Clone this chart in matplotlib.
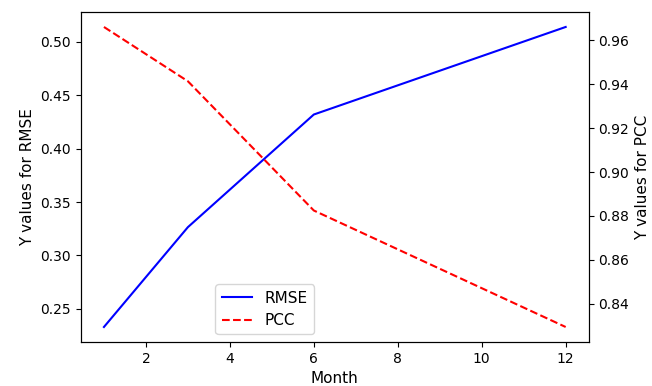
import matplotlib
matplotlib.use('Agg')
import matplotlib.pyplot as plt

months = [1, 3, 6, 12]
rmse = [0.233, 0.3265, 0.432, 0.514]
pcc = [0.966, 0.9413, 0.8825, 0.8295]

fig, ax1 = plt.subplots(figsize=(6.52, 3.86), dpi=100)
fig.subplots_adjust(left=0.124, right=0.903, top=0.969, bottom=0.114)

l1, = ax1.plot(months, rmse, color='blue', linestyle='-', label='RMSE')
ax1.set_xlabel('Month', fontsize=11)
ax1.set_ylabel('Y values for RMSE', fontsize=11)

ax2 = ax1.twinx()
l2, = ax2.plot(months, pcc, color='red', linestyle='--', label='PCC')
ax2.set_ylabel('Y values for PCC', fontsize=11)

ax1.legend(handles=[l1, l2], loc='lower left', bbox_to_anchor=(0.25, 0.0), fontsize=11)

plt.savefig('out.png', dpi=100)
